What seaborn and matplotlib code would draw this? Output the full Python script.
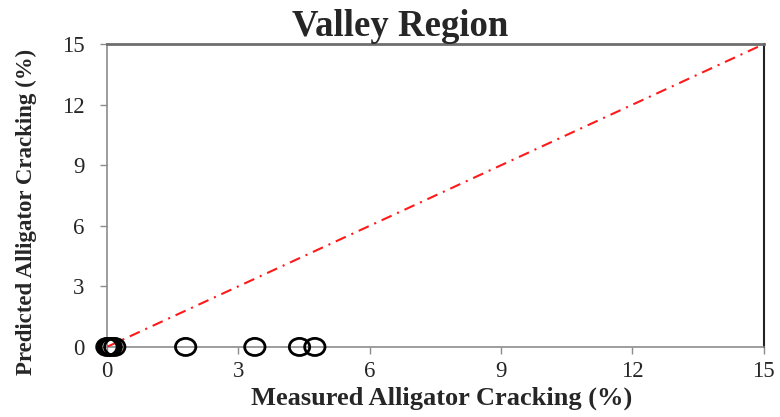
import numpy as np
import pandas as pd
import matplotlib
matplotlib.use("Agg")
import matplotlib.pyplot as plt
from matplotlib.path import Path
from matplotlib.markers import MarkerStyle
import seaborn as sns

# Measured vs predicted alligator cracking, valley sections (%)
measured = [0.0, 0.05, 0.10, 0.18, 1.80, 3.38, 4.40, 4.75]
predicted = [0.0, 0.0, 0.0, 0.0, 0.0, 0.0, 0.0, 0.0]

# Line of equality
equality_x = [0, 15]
equality_y = [0, 15]

ticks = [0, 3, 6, 9, 12, 15]
title = "Valley Region"
xlabel = "Measured Alligator Cracking (%)"
ylabel = "Predicted Alligator Cracking (%)"

sns.set_theme(style="white")
plt.rcParams["font.family"] = ["Liberation Serif", "DejaVu Serif"]

df = pd.DataFrame({"measured": measured, "predicted": predicted})
eq = pd.DataFrame({"x": equality_x, "y": equality_y})

fig = plt.figure(figsize=(7.8, 4.17), dpi=100)
ax = fig.add_axes([0.137, 0.168, 0.842, 0.726])

# slightly wide open ellipse marker
circ = Path.unit_circle()
ellipse = Path(circ.vertices * np.array([1.0, 0.84]), circ.codes)

sns.lineplot(data=eq, x="x", y="y", ax=ax, color="#ff1a1a", linewidth=1.5,
             dashes=False, zorder=3)
ax.lines[-1].set_linestyle((0, (5.3, 2.9, 1.0, 2.9)))

sns.scatterplot(data=df, x="measured", y="predicted", ax=ax,
                marker=MarkerStyle(ellipse), s=215, facecolor="none",
                edgecolor="black", linewidth=2.0, zorder=4, clip_on=False)

ax.set_xlim(0, 15)
ax.set_ylim(0, 15)
ax.set_xticks(ticks)
ax.set_yticks(ticks)
ax.set_xticklabels([str(t) for t in ticks])
ax.set_yticklabels([str(t) for t in ticks])

for side in ["left", "bottom", "top"]:
    ax.spines[side].set_color("#8c8c8c")
    ax.spines[side].set_linewidth(1.2)
ax.spines["top"].set_color("#6e6e6e")
ax.spines["top"].set_linewidth(2.0)
ax.spines["right"].set_color("#222222")
ax.spines["right"].set_linewidth(1.5)

ax.tick_params(axis="x", direction="out", length=5, width=1, color="#8c8c8c",
               labelsize=16.5, pad=5, bottom=True)
ax.tick_params(axis="y", direction="out", length=5, width=1, color="#8c8c8c",
               labelsize=16.5, pad=11, left=True)

ax.set_title(title, fontsize=26.5, fontweight="bold", x=0.447, pad=6)
ax.set_xlabel(xlabel, fontsize=19, fontweight="bold")
ax.set_ylabel(ylabel, fontsize=16.5, fontweight="bold")
ax.xaxis.set_label_coords(0.51, -0.132)
ax.yaxis.set_label_coords(-0.107, 0.445)

fig.savefig("out.png", dpi=100)
